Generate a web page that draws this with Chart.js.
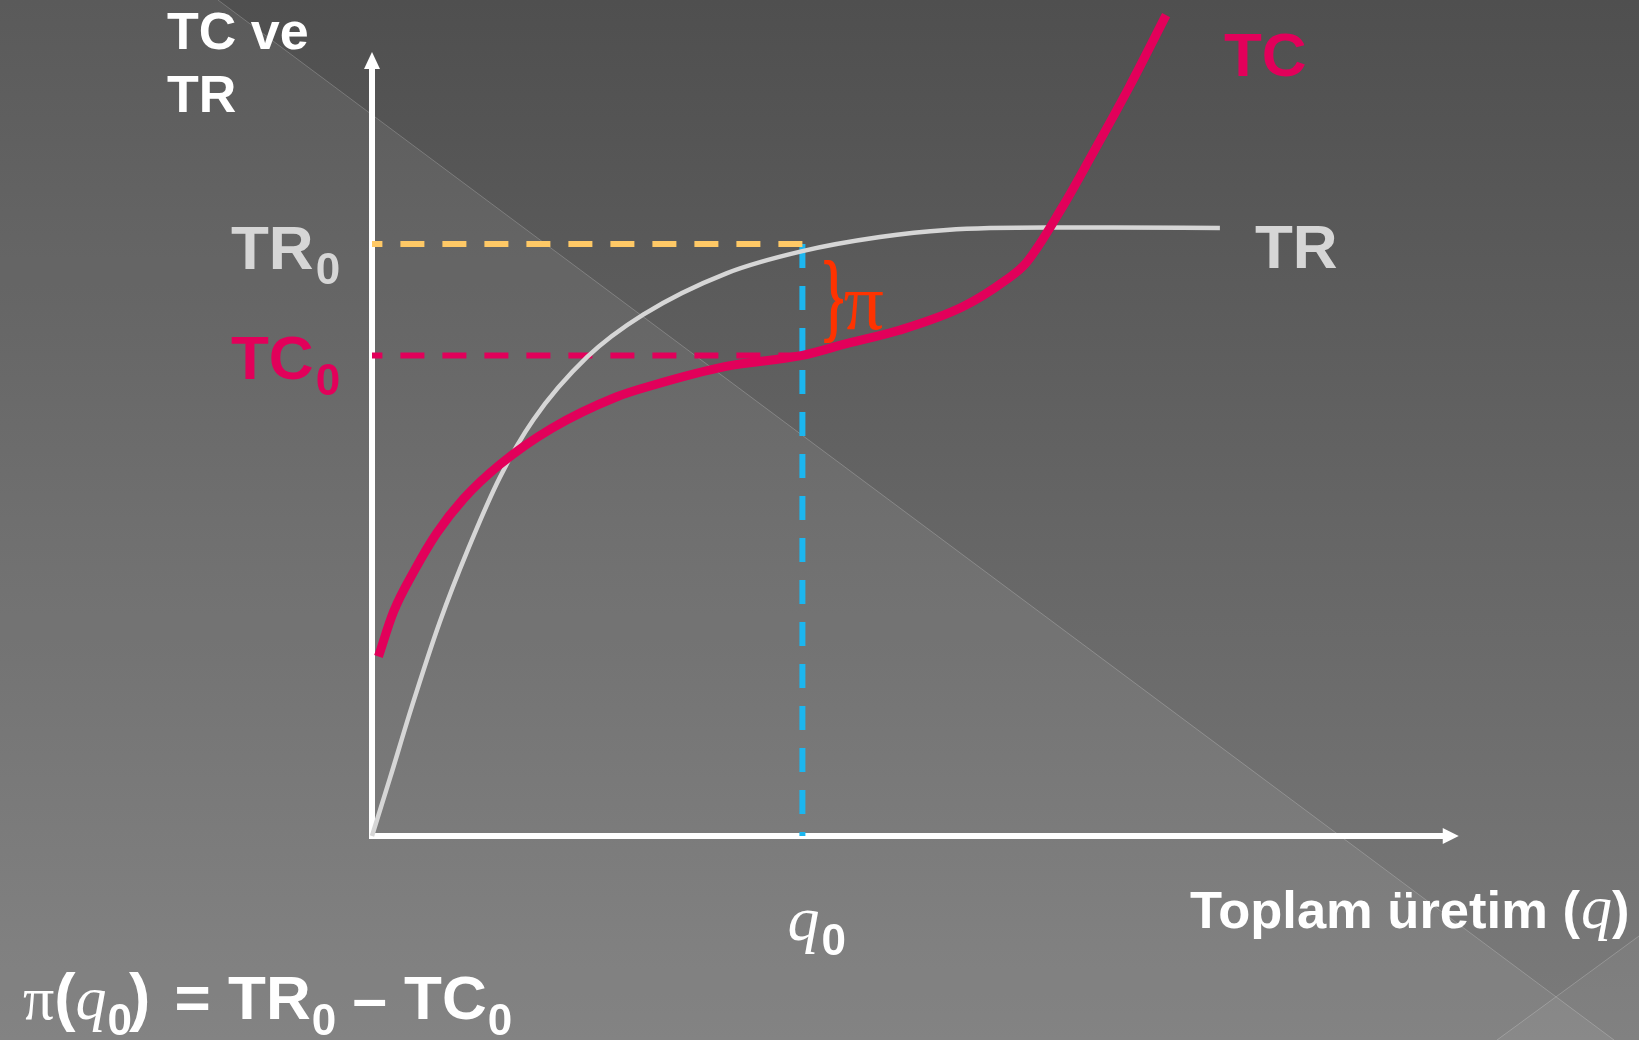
<!DOCTYPE html>
<html lang="tr">
<head>
  <meta charset="UTF-8">
  <title>TC ve TR</title>
  <script src="https://cdn.jsdelivr.net/npm/chart.js@4.4.0/dist/chart.umd.min.js"></script>
  <style>
    html, body { margin: 0; padding: 0; overflow: hidden; background: #5a5a5a; }
    canvas { display: block; }
  </style>
</head>
<body>
  <canvas id="profitChart" width="1639" height="1040" style="width:1639px;height:1040px"></canvas>

  <script>
    // Total cost curve (q, TC)
    const tcQ    = [0.6, 2.0, 4.0, 6.0, 8.5, 11.9, 16.7, 22.7, 26.1, 32.9, 40.0, 44.1, 49.0, 54.9, 58.9, 60.8, 64.2, 67.0, 70.4, 73.8];
    const tcCost = [22.9, 28.6, 34.0, 38.6, 43.0, 47.4, 52.0, 56.0, 57.5, 59.9, 61.3, 62.8, 64.5, 67.5, 70.9, 73.1, 80.3, 87.1, 95.6, 104.7];

    // Total revenue curve (q, TR)
    const trQ       = [0, 1.7, 3.7, 6.3, 8.9, 11.9, 15.0, 20.0, 25.2, 33.0, 40.0, 47.2, 53.4, 62.7, 68.9, 78.8];
    const trRevenue = [0, 7.5, 16.5, 27.3, 36.5, 45.8, 53.1, 61.1, 66.5, 71.8, 74.6, 76.4, 77.3, 77.6, 77.6, 77.55];

    const q0  = 40;
    const TR0 = 75.5;
    const TC0 = 61.3;

    const axisMax = 100;
    const xArrowEnd = 101;   // horizontal axis runs a little past the scale

    const C_TC = '#E2005A';
    const C_TR = '#D6D6D6';
    const C_TR0 = '#FFC966';
    const C_Q0 = '#1CB6EF';
    const C_PI = '#FF3300';

    const SANS = '"Liberation Sans", Arial, sans-serif';
    const SERIF = '"Liberation Serif", "Times New Roman", serif';

    const pts = (xs, ys) => xs.map((x, i) => ({ x: x, y: ys[i] }));

    // draws a row of text pieces with their own font / baseline shift
    function drawRuns(ctx, x, y, runs) {
      runs.forEach(r => {
        ctx.font = r.font;
        ctx.fillStyle = r.color;
        ctx.fillText(r.text, x, y + (r.dy || 0));
        x += ctx.measureText(r.text).width + (r.gap || 0);
      });
    }

    const backgroundPlugin = {
      id: 'slideBackground',
      beforeDraw(chart) {
        const ctx = chart.ctx, w = chart.width, h = chart.height;
        ctx.save();
        const g = ctx.createLinearGradient(0, 0, 0, h);
        g.addColorStop(0, '#4f4f4f');
        g.addColorStop(1, '#7b7b7b');
        ctx.fillStyle = g;
        ctx.fillRect(0, 0, w, h);

        // lighter diagonal panel
        ctx.beginPath();
        ctx.moveTo(0, 0); ctx.lineTo(218, 0); ctx.lineTo(1614, h); ctx.lineTo(0, h);
        ctx.closePath();
        ctx.fillStyle = 'rgba(255,255,255,0.065)';
        ctx.fill();

        ctx.beginPath();
        ctx.moveTo(w, 936); ctx.lineTo(w, h); ctx.lineTo(1497, h);
        ctx.closePath();
        ctx.fillStyle = 'rgba(255,255,255,0.05)';
        ctx.fill();

        ctx.strokeStyle = 'rgba(255,255,255,0.2)';
        ctx.lineWidth = 1;
        ctx.beginPath();
        ctx.moveTo(218, 0); ctx.lineTo(1614, h);
        ctx.moveTo(w, 936); ctx.lineTo(1497, h);
        ctx.stroke();
        ctx.restore();
      }
    };

    const axesPlugin = {
      id: 'arrowAxes',
      beforeDatasetsDraw(chart) {
        const ctx = chart.ctx;
        const xs = chart.scales.x, ys = chart.scales.y;
        const x0 = xs.getPixelForValue(0), y0 = ys.getPixelForValue(0);
        const xEnd = xs.getPixelForValue(xArrowEnd), yEnd = ys.getPixelForValue(axisMax);
        ctx.save();
        ctx.strokeStyle = '#ffffff';
        ctx.fillStyle = '#ffffff';
        ctx.lineWidth = 6;
        ctx.beginPath();
        ctx.moveTo(x0, y0 + 3); ctx.lineTo(x0, yEnd + 14);
        ctx.moveTo(x0 - 3, y0); ctx.lineTo(xEnd - 14, y0);
        ctx.stroke();
        // arrow heads
        ctx.beginPath();
        ctx.moveTo(x0, yEnd); ctx.lineTo(x0 - 8, yEnd + 17); ctx.lineTo(x0 + 8, yEnd + 17);
        ctx.closePath();
        ctx.fill();
        ctx.beginPath();
        ctx.moveTo(xEnd, y0); ctx.lineTo(xEnd - 16, y0 - 8); ctx.lineTo(xEnd - 16, y0 + 8);
        ctx.closePath();
        ctx.fill();
        ctx.restore();
      }
    };

    const labelsPlugin = {
      id: 'textLabels',
      afterDatasetsDraw(chart) {
        const ctx = chart.ctx;
        const xs = chart.scales.x, ys = chart.scales.y;
        const px = v => xs.getPixelForValue(v);
        const py = v => ys.getPixelForValue(v);
        ctx.save();
        ctx.textBaseline = 'alphabetic';
        ctx.textAlign = 'left';

        // y axis title
        ctx.fillStyle = '#ffffff';
        ctx.font = 'bold 52px ' + SANS;
        ctx.fillText('TC ve', 167, 49);
        ctx.fillText('TR', 167, 112);

        // levels on the y axis
        drawRuns(ctx, 231, py(TR0) + 25, [
          { text: 'TR', font: 'bold 62px ' + SANS, color: C_TR, gap: 2 },
          { text: '0', font: 'bold 44px ' + SANS, color: C_TR, dy: 15 }
        ]);
        drawRuns(ctx, 231, py(TC0) + 24, [
          { text: 'TC', font: 'bold 62px ' + SANS, color: C_TC, gap: 2 },
          { text: '0', font: 'bold 44px ' + SANS, color: C_TC, dy: 16 }
        ]);

        // curve names
        ctx.font = 'bold 62px ' + SANS;
        ctx.fillStyle = C_TC;
        ctx.fillText('TC', 1224, 76);
        ctx.fillStyle = C_TR;
        ctx.fillText('TR', 1255, 268);

        // profit brace between TR0 and TC0
        const bx = px(q0) + 17;
        const bMid = (py(TR0) + py(TC0)) / 2 + 4;
        ctx.save();
        ctx.translate(bx, bMid);
        ctx.scale(0.6, 1);
        ctx.fillStyle = C_PI;
        ctx.strokeStyle = C_PI;
        ctx.lineWidth = 2;
        ctx.font = '98px ' + SERIF;
        ctx.textBaseline = 'middle';
        ctx.fillText('}', 0, 0);
        ctx.strokeText('}', 0, 0);
        ctx.restore();
        ctx.fillStyle = C_PI;
        ctx.font = '80px ' + SERIF;
        ctx.fillText('π', bx + 24, 329);

        // q0 under the x axis
        drawRuns(ctx, px(q0) - 15, 940, [
          { text: 'q', font: 'italic 64px ' + SERIF, color: '#ffffff', gap: 2 },
          { text: '0', font: 'bold 44px ' + SANS, color: '#ffffff', dy: 15 }
        ]);

        // x axis title
        drawRuns(ctx, 1190, 928, [
          { text: 'Toplam üretim (', font: 'bold 52.5px ' + SANS, color: '#ffffff', gap: 1 },
          { text: 'q', font: 'italic 62px ' + SERIF, color: '#ffffff', gap: 0 },
          { text: ')', font: 'bold 52.5px ' + SANS, color: '#ffffff' }
        ]);

        // profit identity
        const big = 'bold 62px ' + SANS, sub = 'bold 44px ' + SANS;
        drawRuns(ctx, 23, 1019, [
          { text: 'π', font: '62px ' + SERIF, color: '#ffffff', gap: 0 },
          { text: '(', font: 'bold 64px ' + SANS, color: '#ffffff', gap: 0 },
          { text: 'q', font: 'italic 62px ' + SERIF, color: '#ffffff', gap: 1 },
          { text: '0', font: sub, color: '#ffffff', dy: 16, gap: -3 },
          { text: ')', font: 'bold 64px ' + SANS, color: '#ffffff', gap: 7 },
          { text: ' = TR', font: big, color: '#ffffff', gap: 1 },
          { text: '0', font: sub, color: '#ffffff', dy: 16, gap: -1 },
          { text: ' – TC', font: big, color: '#ffffff', gap: 1 },
          { text: '0', font: sub, color: '#ffffff', dy: 16 }
        ]);
        ctx.restore();
      }
    };

    const ctx = document.getElementById('profitChart').getContext('2d');
    new Chart(ctx, {
      type: 'line',
      data: {
        datasets: [
          {
            label: 'TC',
            data: pts(tcQ, tcCost),
            borderColor: C_TC,
            borderWidth: 9,
            cubicInterpolationMode: 'monotone',
            clip: false,
            order: 0
          },
          {
            label: 'TR',
            data: pts(trQ, trRevenue),
            borderColor: C_TR,
            borderWidth: 4.5,
            cubicInterpolationMode: 'monotone',
            clip: false,
            order: 1
          },
          {
            label: 'TR0',
            data: [{ x: q0, y: TR0 }, { x: 0, y: TR0 }],
            borderColor: C_TR0,
            borderWidth: 6,
            borderDash: [24, 18],
            clip: false,
            order: 2
          },
          {
            label: 'TC0',
            data: [{ x: q0, y: TC0 }, { x: 0, y: TC0 }],
            borderColor: C_TC,
            borderWidth: 6,
            borderDash: [24, 18],
            clip: false,
            order: 2
          },
          {
            label: 'q0',
            data: [{ x: q0, y: TR0 }, { x: q0, y: 0 }],
            borderColor: C_Q0,
            borderWidth: 6,
            borderDash: [24, 18],
            clip: false,
            order: 2
          }
        ]
      },
      options: {
        responsive: false,
        animation: false,
        layout: { padding: { left: 372, right: 191, top: 52, bottom: 204 } },
        elements: { point: { radius: 0, hoverRadius: 0 } },
        scales: {
          x: { type: 'linear', min: 0, max: axisMax, display: false },
          y: { type: 'linear', min: 0, max: axisMax, display: false }
        },
        plugins: {
          legend: { display: false },
          tooltip: { enabled: false }
        }
      },
      plugins: [backgroundPlugin, axesPlugin, labelsPlugin]
    });
  </script>
</body>
</html>
